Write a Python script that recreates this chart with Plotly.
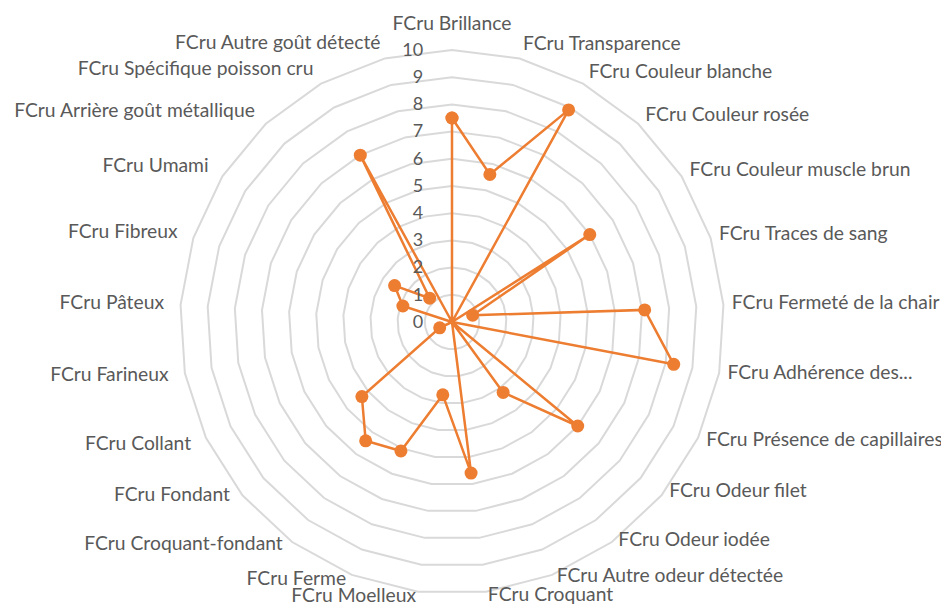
import math
import plotly.graph_objects as go

# Descripteurs sensoriels (filet cru)
categories = [
    "FCru Brillance", "FCru Transparence", "FCru Couleur blanche", "FCru Couleur rosée",
    "FCru Couleur muscle brun", "FCru Traces de sang", "FCru Fermeté de la chair",
    "FCru Adhérence des...", "FCru Présence de capillaires", "FCru Odeur filet",
    "FCru Odeur iodée", "FCru Autre odeur détectée", "FCru Croquant", "FCru Moelleux",
    "FCru Ferme", "FCru Croquant-fondant", "FCru Fondant", "FCru Collant",
    "FCru Farineux", "FCru Pâteux", "FCru Fibreux", "FCru Umami",
    "FCru Arrière goût métallique", "FCru Spécifique poisson cru", "FCru Autre goût détecté",
]
scores = [7.5, 5.6, 8.9, 0, 6.0, 0.8, 7.1, 8.3, 0, 6.0, 3.2, 0, 5.6, 2.7,
          5.1, 5.4, 4.3, 0.5, 0, 0, 1.9, 2.5, 1.2, 7.0, 0]
radial_ticks = list(range(0, 11))

orange = "#ED7D31"
text_grey = "#595959"

# Excel-like placement of the category labels around the web
n = len(categories)
label_pos = []
label_r = []
for i in range(n):
    ang = i * 360 / n
    s = math.sin(math.radians(ang))
    label_r.append(10.55 - 0.24 * max(s, 0) + 0.06 * max(-s, 0))
    if ang == 0:
        label_pos.append("top center")
    elif ang < 120:
        label_pos.append("middle right")
    elif ang < 180:
        label_pos.append("top right")
    elif ang < 240:
        label_pos.append("top left")
    else:
        label_pos.append("middle left")

fig = go.Figure()
fig.add_trace(go.Scatterpolar(
    r=scores + scores[:1],
    theta=categories + categories[:1],
    mode="lines+markers",
    line=dict(color=orange, width=2.5),
    marker=dict(color=orange, size=13),
    showlegend=False,
    hoverinfo="r+theta",
))
# category labels, a little outside the outer ring (10)
fig.add_trace(go.Scatterpolar(
    r=label_r,
    theta=categories,
    mode="text",
    text=categories,
    textposition=label_pos,
    textfont=dict(family="Lato", size=19.3, color=text_grey),
    cliponaxis=False,
    showlegend=False,
    hoverinfo="skip",
))

fig.update_layout(
    width=949, height=610,
    margin=dict(l=0, r=0, t=0, b=0),
    paper_bgcolor="white",
    font=dict(family="Lato", size=19, color=text_grey),
    polar=dict(
        domain=dict(x=[0.1612, 0.7745], y=[0.0082, 0.9623]),
        bgcolor="white",
        gridshape="linear",
        radialaxis=dict(
            range=[0, 10.7], tickvals=radial_ticks, angle=90, tickangle=90,
            side="counterclockwise",
            showline=False, gridcolor="#D9D9D9", gridwidth=1.5,
            ticks="outside", ticklen=22, tickcolor="rgba(0,0,0,0)",
            tickfont=dict(size=18, color=text_grey),
        ),
        angularaxis=dict(
            rotation=90, direction="clockwise", showgrid=False,
            showline=False, ticks="", showticklabels=False,
        ),
    ),
)

fig.write_html("out.html")
